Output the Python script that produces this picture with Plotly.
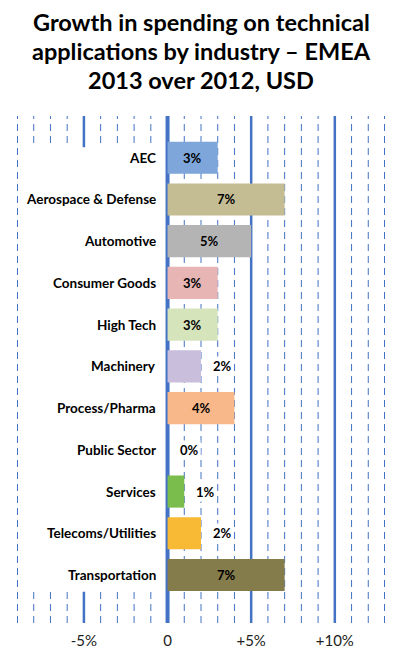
import plotly.graph_objects as go

# data
industries = ["AEC", "Aerospace & Defense", "Automotive", "Consumer Goods", "High Tech",
              "Machinery", "Process/Pharma", "Public Sector", "Services",
              "Telecoms/Utilities", "Transportation"]
growth = [3, 7, 5, 3, 3, 2, 4, 0, 1, 2, 7]
bar_colors = ["#7ea6da", "#c4bc93", "#b4b4b4", "#e6b5b4", "#d6e4bc",
              "#c9bedb", "#f9b88a", "#ffffff", "#7bbd4c", "#f8b934", "#857c4c"]
tick_vals = [-5, 0, 5, 10]
tick_text = ["-5%", "0", "+5%", "+10%"]
title_lines = ["Growth in spending on technical",
               "applications by industry – EMEA",
               "2013 over 2012, USD"]

X_MIN, X_MAX = -9, 13
BLUE = "#4472c4"
FONT = "Lato"
H = 669
M_T, M_B = 116, 46

fig = go.Figure()
fig.add_trace(go.Bar(
    x=growth, y=list(range(len(industries))), orientation="h",
    marker=dict(color=bar_colors, line=dict(width=0)),
    width=0.77, hoverinfo="skip",
))

shapes = []
# vertical gridlines every 1%, solid every 5%
for v in range(X_MIN, X_MAX + 1):
    if v % 5 == 0:
        line = dict(color=BLUE, width=4 if v == 0 else 2.5)
    else:
        edge = v in (X_MIN, X_MAX)
        line = dict(color=BLUE, width=2 if edge else 1, dash="7px,5px")
    shapes.append(dict(type="line", xref="x", yref="paper", x0=v, x1=v, y0=0, y1=1,
                       line=line, layer="below"))
# white box behind the category names
shapes.append(dict(type="rect", xref="x", yref="y", x0=X_MIN + 0.25, x1=-0.3,
                   y0=-0.25, y1=len(industries) - 0.6,
                   fillcolor="white", line=dict(width=0), layer="below"))

annotations = []
# title, one line at a time (pixel centres from the reference)
for txt, yc in zip(title_lines, [22, 51, 80]):
    annotations.append(dict(x=0.5, y=(H - M_B - yc) / (H - M_T - M_B), xref="paper", yref="paper",
                            text="<b>%s</b>" % txt, showarrow=False, yanchor="middle",
                            font=dict(family=FONT, size=23.5, color="black")))
for i, (name, v) in enumerate(zip(industries, growth)):
    annotations.append(dict(x=-0.6, y=i, xref="x", yref="y", text="<b>%s</b>" % name,
                            xanchor="right", showarrow=False,
                            font=dict(family=FONT, size=13.5, color="black")))
    if v >= 3:
        annotations.append(dict(x=v / 2, y=i, xref="x", yref="y", text="<b>%d%%</b>" % v,
                                showarrow=False,
                                font=dict(family=FONT, size=13, color="black")))
    else:
        annotations.append(dict(x=v, y=i, xref="x", yref="y", text="<b>%d%%</b>" % v,
                                xanchor="left", xshift=10, showarrow=False,
                                bgcolor="white",
                                font=dict(family=FONT, size=13, color="black")))

fig.update_layout(
    width=402, height=H,
    margin=dict(l=17, r=17, t=M_T, b=M_B),
    paper_bgcolor="white", plot_bgcolor="white",
    showlegend=False,
    xaxis=dict(range=[X_MIN, X_MAX], showgrid=False, zeroline=False,
               tickvals=tick_vals, ticktext=tick_text, ticks="", ticklabelstandoff=7,
               tickfont=dict(family=FONT, size=15, color="#222")),
    yaxis=dict(range=[len(industries) - 1 + 1.15, -1.0], showgrid=False, zeroline=False,
               showticklabels=False),
    shapes=shapes, annotations=annotations,
)

fig.write_html("out.html", config={"displayModeBar": False},
               post_script="document.body.style.margin='0';")
